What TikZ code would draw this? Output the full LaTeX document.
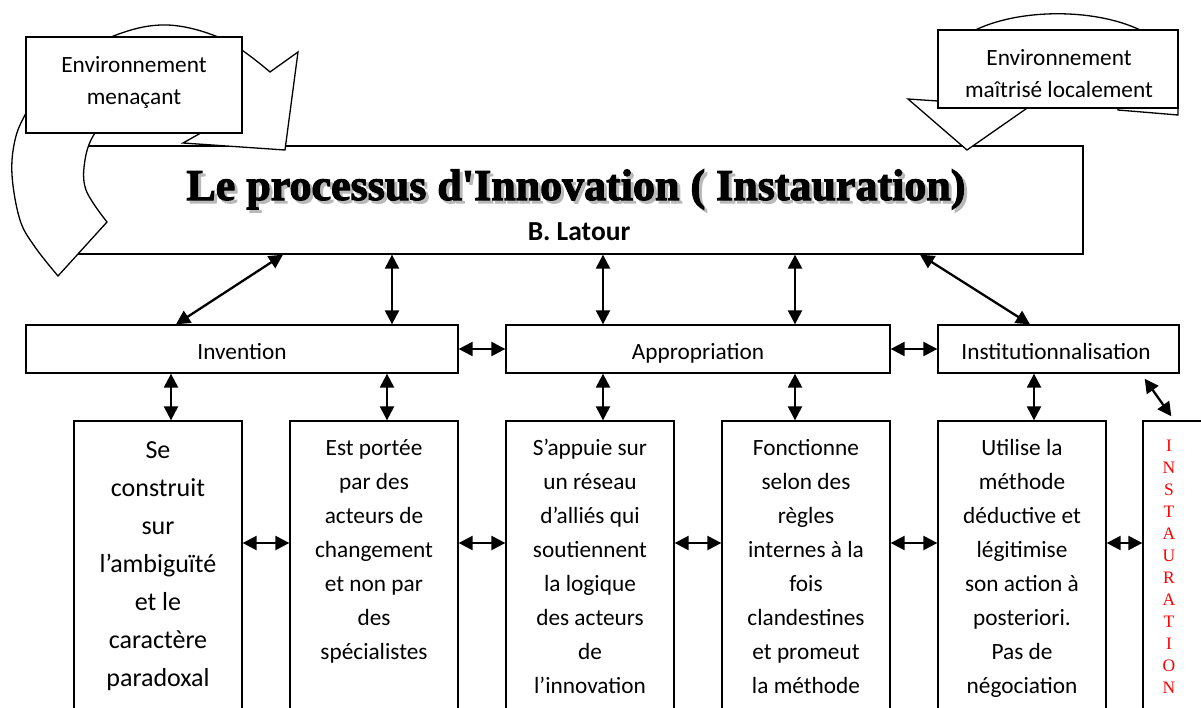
\documentclass[tikz,border=0pt]{standalone}
\usepackage{fontspec}
\setmainfont{Carlito}
\newfontfamily\tnr{Liberation Serif}
\newfontfamily\tnrheavy{Liberation Serif Bold}[FakeBold=2.5]
\usetikzlibrary{arrows.meta,calc}
\begin{document}
\begin{tikzpicture}[x=1pt,y=-1pt,
  box/.style={draw, line width=1.3pt, fill=white, inner sep=0pt},
  bigshape/.style={draw, line width=1.3pt, fill=white, line join=miter},
  dbl/.style={line width=2.3pt, {Triangle[length=14pt,width=14pt]}-{Triangle[length=14pt,width=14pt]}},
  lbl/.style={font=\fontsize{23.3}{28}\selectfont, inner sep=0pt, anchor=base},
  lblbig/.style={font=\fontsize{26}{30}\selectfont, inner sep=0pt, anchor=base},
  vlet/.style={font=\tnr\fontsize{17.5}{20}\selectfont, text=red, inner sep=0pt, anchor=base},
  titlefont/.style={font=\tnrheavy\fontsize{44}{50}\selectfont, inner sep=0pt, anchor=base}
]
\useasboundingbox (0,0) rectangle (1201,707);
\clip (0,0) rectangle (1201,707);

% title box
\node[box, minimum width=1028, minimum height=108] (title) at (569,200) {};
\node[titlefont, text=gray!55] (titleshadow) at (579,203) {Le processus d'Innovation ( Instauration)};
\node[titlefont, text=black] (titletext) at (576,200) {Le processus d'Innovation ( Instauration)};
\node[font=\bfseries\fontsize{27.5}{30}\selectfont, inner sep=0pt, anchor=base] (author) at (579,240) {B. Latour};

% left circular arrow
\path[bigshape] plot[smooth, tension=0.6] coordinates {(58,276) (35,247) (20,220) (12,175) (15,140) (26,113) (50,72) (111,37) (167,25) (225,40) (270,72)}
  -- (298,52) -- (285,150) -- (183,143) -- (215,125)
  -- plot[smooth, tension=0.6] coordinates {(215,125) (170,95) (120,108) (95,133) (85,160) (86,190) (107,222)}
  -- cycle;
\node[box, minimum width=216, minimum height=96] (menace) at (134,85) {};
\node[lbl] (menace1) at (134,72) {Environnement};
\node[lbl] (menace2) at (134,104) {menaçant};

% right U-turn arrow
\path[bigshape] (938,101) -- (938,70) .. controls (955,-5) and (1160,-5) .. (1178,70) -- (1178,115) -- (1118,110)
  -- (1118,70) .. controls (1110,45) and (1010,45) .. (1005,70) -- (1005,104) -- (1033,104) -- (967,150) -- (908,99) -- cycle;
\node[box, minimum width=240, minimum height=78] (maitrise) at (1058,69) {};
\node[lbl] (maitrise1) at (1059,65) {Environnement};
\node[lbl] (maitrise2) at (1059,97) {maîtrisé localement};

% second row
\node[box, minimum width=432, minimum height=48] (inv) at (242,349) {};
\node[box, minimum width=384, minimum height=48] (app) at (698,349) {};
\node[box, minimum width=241, minimum height=48] (inst) at (1058.5,349) {};
\node[lbl] (invtxt) at (242,359) {Invention};
\node[lbl] (apptxt) at (698,359) {Appropriation};
\node[lbl] (insttxt) at (1056,359) {Institutionnalisation};

% bottom boxes
\node[box, minimum width=168, minimum height=309] (b1) at (158,575.5) {};
\node[box, minimum width=168, minimum height=309] (b2) at (374,575.5) {};
\node[box, minimum width=168, minimum height=309] (b3) at (590,575.5) {};
\node[box, minimum width=168, minimum height=309] (b4) at (806,575.5) {};
\node[box, minimum width=168, minimum height=309] (b5) at (1022,575.5) {};
\node[box, minimum width=97, minimum height=309] (b6) at (1191.5,575.5) {};

\foreach \t [count=\i] in {Se,construit,sur,l’ambiguïté,et le,caractère,paradoxal}
  \node[lblbig] (ta\i) at (158,{458+38*(\i-1)}) {\t};
\foreach \t [count=\i] in {Est portée,par des,acteurs de,changement,et non par,des,spécialistes}
  \node[lbl] (tb\i) at (374,{455+34*(\i-1)}) {\t};
\foreach \t [count=\i] in {S’appuie sur,un réseau,d’alliés qui,soutiennent,la logique,des acteurs,de,l’innovation}
  \node[lbl] (tc\i) at (590,{455+34*(\i-1)}) {\t};
\foreach \t [count=\i] in {Fonctionne,selon des,règles,internes à la,fois,clandestines,et promeut,la méthode}
  \node[lbl] (td\i) at (806,{455+34*(\i-1)}) {\t};
\foreach \t [count=\i] in {Utilise la,méthode,déductive et,légitimise,son action à,posteriori.,Pas de,négociation}
  \node[lbl] (te\i) at (1022,{455+34*(\i-1)}) {\t};
\foreach \t [count=\i] in {I,N,S,T,A,U,R,A,T,I,O,N}
  \node[vlet] (tf\i) at (1169,{451+22*(\i-1)}) {\t};

% connectors
\draw[dbl] (283,0 |- title.south) -- (176,0 |- inv.north);
\draw[dbl] (392,0 |- title.south) -- (392,0 |- inv.north);
\draw[dbl] (603,0 |- title.south) -- (603,0 |- app.north);
\draw[dbl] (795,0 |- title.south) -- (795,0 |- app.north);
\draw[dbl] (920,0 |- title.south) -- (1030,0 |- inst.north);
\draw[dbl] (inv.east) -- (app.west);
\draw[dbl] (app.east) -- (inst.west);
\draw[dbl] (171,0 |- inv.south) -- (171,0 |- b1.north);
\draw[dbl] (387,0 |- inv.south) -- (387,0 |- b2.north);
\draw[dbl] (603,0 |- app.south) -- (603,0 |- b3.north);
\draw[dbl] (795,0 |- app.south) -- (795,0 |- b4.north);
\draw[dbl] (1034,0 |- inst.south) -- (1034,0 |- b5.north);
\draw[dbl] ($(inst.south east)+(-35,5)$) -- ($(b6.north west)+(29,-4)$);
\draw[dbl] (b1.east |- 0,543) -- (b2.west |- 0,543);
\draw[dbl] (b2.east |- 0,543) -- (b3.west |- 0,543);
\draw[dbl] (b3.east |- 0,543) -- (b4.west |- 0,543);
\draw[dbl] (b4.east |- 0,543) -- (b5.west |- 0,543);
\draw[dbl] (b5.east |- 0,543) -- (b6.west |- 0,543);
\end{tikzpicture}
\end{document}
